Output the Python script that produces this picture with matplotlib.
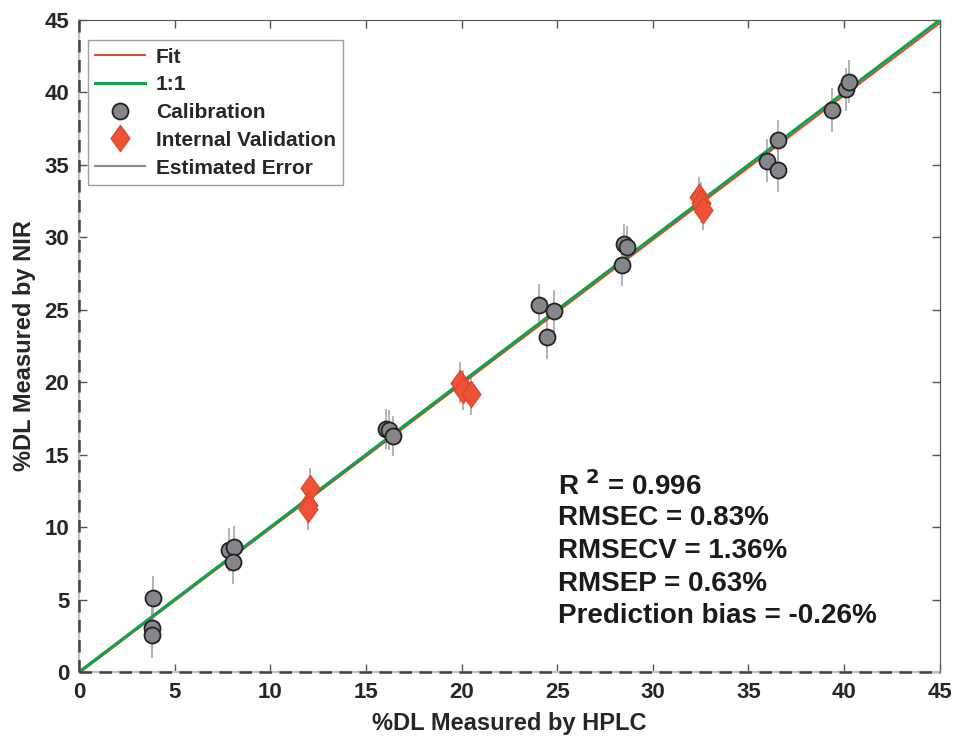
import numpy as np
import matplotlib.pyplot as plt

plt.rcParams['font.family'] = ['Liberation Sans', 'DejaVu Sans']
plt.rcParams['font.weight'] = 'bold'

# calibration samples: HPLC vs NIR
cal_hplc = [3.87, 3.8, 3.8, 7.84, 8.1, 8.05, 16.05, 16.2, 16.4,
            24.05, 24.85, 24.45, 28.49, 28.63, 28.37,
            36.52, 35.98, 36.56, 39.35, 40.09, 40.27]
cal_nir = [5.1, 3.04, 2.55, 8.42, 8.6, 7.6, 16.77, 16.7, 16.3,
           25.3, 24.9, 23.1, 29.54, 29.35, 28.07,
           36.71, 35.29, 34.64, 38.79, 40.21, 40.74]
cal_err = [1.5, 1.5, 1.6, 1.5, 1.5, 1.5, 1.4, 1.4, 1.4,
           1.5, 1.5, 1.5, 1.4, 1.4, 1.4,
           1.4, 1.5, 1.5, 1.5, 1.5, 1.5]

# internal validation samples
val_hplc = [12.1, 11.95, 11.95, 19.92, 20.09, 20.47, 32.43, 32.5, 32.64]
val_nir = [12.68, 11.5, 11.23, 19.97, 19.46, 19.16, 32.76, 32.4, 31.88]
val_err = [1.4, 1.4, 1.4, 1.4, 1.4, 1.4, 1.4, 1.4, 1.4]

# regression line (slope, intercept)
fit_slope = 0.997
fit_intercept = -0.08

stats = ["R$^{\\ 2}$ = 0.996", "RMSEC = 0.83%", "RMSECV = 1.36%",
         "RMSEP = 0.63%", "Prediction bias = -0.26%"]

fig = plt.figure(figsize=(9.57, 7.42), dpi=100)
ax = fig.add_axes([0.0825, 0.0943, 0.8995, 0.8787])

line = np.array([0, 45])
diamond = [(0, 1), (0.72, 0), (0, -1), (-0.72, 0), (0, 1)]

ax.errorbar(cal_hplc, cal_nir, yerr=cal_err, fmt='none', ecolor='#a8a8a8', elinewidth=1.2, zorder=2)
ax.errorbar(val_hplc, val_nir, yerr=val_err, fmt='none', ecolor='#a8a8a8', elinewidth=1.2, zorder=2)

ax.plot(line, fit_slope * line + fit_intercept, color='#e8432f', lw=1.4, zorder=3, label='Fit')
ax.plot(line, line, color='#10a34a', lw=2.2, zorder=4, label='1:1')
ax.plot(cal_hplc, cal_nir, 'o', ms=11.5, mfc='#87878b', mec='#222222', mew=1.3,
        zorder=5, label='Calibration')
ax.plot(val_hplc, val_nir, marker=diamond, ls='none', ms=19, mfc='#ee5236', mec='#d84528',
        mew=0.8, zorder=5, label='Internal Validation')
ax.plot([], [], color='#888888', lw=1.5, label='Estimated Error')

ax.set_xlim(0, 45)
ax.set_ylim(0, 45)
ax.set_xticks(range(0, 46, 5))
ax.set_yticks(range(0, 46, 5))
ax.tick_params(direction='in', length=6, width=1, top=True, right=True,
               labelsize=16, colors='#555555', labelcolor='#262626', pad=7)
for lab in ax.get_xticklabels() + ax.get_yticklabels():
    lab.set_fontweight('bold')

for side in ['top', 'right']:
    ax.spines[side].set_color('#555555')
for side in ['bottom', 'left']:
    ax.spines[side].set_color('#c0c0c0')
    ax.spines[side].set_linewidth(1.6)
ax.axhline(0, color='#444444', lw=1.8, ls=(0, (5, 3)), zorder=6, clip_on=False)
ax.axvline(0, color='#444444', lw=1.8, ls=(0, (5, 3)), zorder=6, clip_on=False)

ax.set_xlabel('%DL Measured by HPLC', fontsize=17, fontweight='bold', color='#262626', labelpad=7)
ax.set_ylabel('%DL Measured by NIR', fontsize=17, fontweight='bold', color='#262626', labelpad=6)

leg = ax.legend(loc='upper left', bbox_to_anchor=(0.0105, 0.969), fontsize=15, frameon=True,
                fancybox=False, edgecolor='#888888', handlelength=2.4, borderpad=0.35,
                labelspacing=0.42, handletextpad=0.5, borderaxespad=0.0)
leg.get_frame().set_linewidth(1.0)
for t in leg.get_texts():
    t.set_fontweight('bold')
    t.set_color('#262626')

for i, s in enumerate(stats):
    ax.text(0.557, 0.286 - i * 0.0502, s, transform=ax.transAxes, fontsize=20,
            fontweight='bold', color='#1a1a1a', va='center')

fig.savefig('out.png', dpi=100)
